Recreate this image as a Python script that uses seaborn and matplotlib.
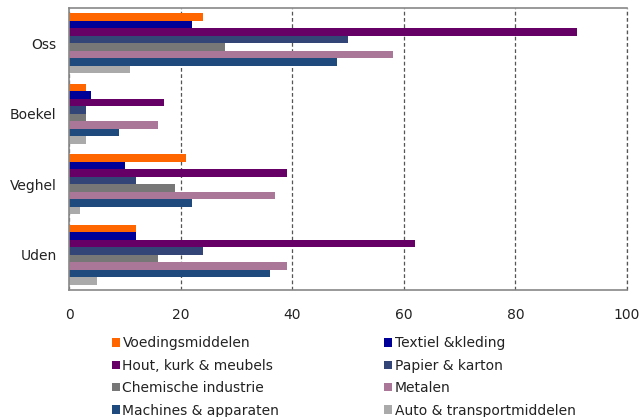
import seaborn as sns
import matplotlib.pyplot as plt
import pandas as pd

sns.set_theme(style="white")
plt.rcParams['font.family'] = ['DejaVu Sans']

places = ["Oss", "Boekel", "Veghel", "Uden"]
sectors = ["Voedingsmiddelen", "Textiel &kleding", "Hout, kurk & meubels",
           "Papier & karton", "Chemische industrie", "Metalen",
           "Machines & apparaten", "Auto & transportmiddelen"]
colors = ["#ff6600", "#000099", "#660066", "#334477",
          "#777777", "#aa7799", "#1f4a7d", "#aaaaaa"]

# values per sector, in the order of places
voeding = [24, 3, 21, 12]
textiel = [22, 4, 10, 12]
hout = [91, 17, 39, 62]
papier = [50, 3, 12, 24]
chemie = [28, 3, 19, 16]
metalen = [58, 16, 37, 39]
machines = [48, 9, 22, 36]
auto = [11, 3, 2, 5]

series = [voeding, textiel, hout, papier, chemie, metalen, machines, auto]
rows = []
for sector, vals in zip(sectors, series):
    for place, v in zip(places, vals):
        rows.append({"place": place, "sector": sector, "value": v})
df = pd.DataFrame(rows)

fig = plt.figure(figsize=(6.4, 4.17), dpi=100)
ax = fig.add_axes([69/640, 1 - 290/417, (627-69)/640, (290-8)/417])

sns.barplot(data=df, y="place", x="value", hue="sector", hue_order=sectors,
            order=places, palette=colors, orient="h", width=0.85,
            saturation=1, linewidth=0, ax=ax, legend=True)

ax.set_xlim(0, 100)
ax.set_xticks([0, 20, 40, 60, 80, 100])
dash = (0, (3, 2))
ax.xaxis.grid(True, linestyle=dash, color="#555555", linewidth=0.9)
ax.axvline(100, linestyle=dash, color="#555555", linewidth=0.9, clip_on=False)
ax.set_axisbelow(True)
ax.set_xlabel("")
ax.set_ylabel("")
for s in ["left", "top", "bottom"]:
    ax.spines[s].set_color("#888888")
    ax.spines[s].set_linewidth(1.2)
ax.spines["right"].set_visible(False)
ax.tick_params(axis="x", labelsize=10, colors="#222222", pad=13, length=0)
ax.tick_params(axis="y", labelsize=10, colors="#222222", pad=9, length=0)

handles, labels = ax.get_legend_handles_labels()
ax.get_legend().remove()
# row-wise legend order
order = [0, 2, 4, 6, 1, 3, 5, 7]
fig.legend([handles[i] for i in order], [labels[i] for i in order],
           loc="upper left", bbox_to_anchor=(112/640, 1 - 336.5/417),
           ncol=2, frameon=False, fontsize=10, handlelength=0.55,
           handleheight=0.55, handletextpad=0.2, columnspacing=7.55,
           labelspacing=0.6, borderpad=0, borderaxespad=0,
           labelcolor="#222222")

plt.savefig("out.png", dpi=100)
